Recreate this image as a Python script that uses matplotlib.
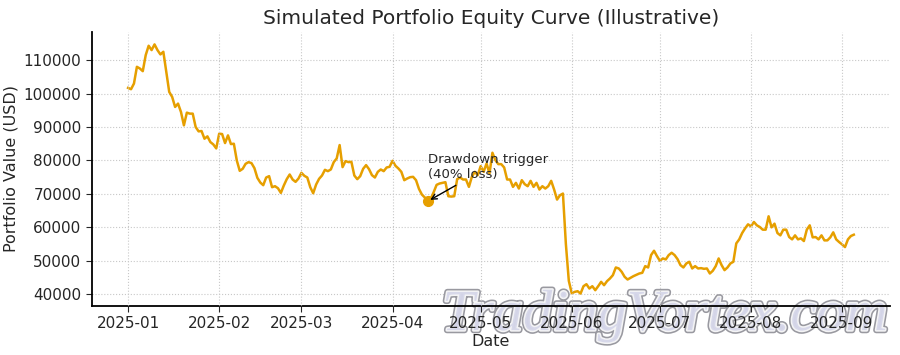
#!/usr/bin/env python3

import matplotlib
matplotlib.use('Agg')
import matplotlib.pyplot as plt
import matplotlib.dates as mdates
import matplotlib.patheffects as pe
from matplotlib.ticker import MultipleLocator
import pandas as pd


START_DATE = '2025-01-01'

# daily portfolio value, one list per month
jan_values = [101700, 101300, 103000, 108000, 107500, 106700, 111500, 114300, 113000, 114700,
              113000, 111700, 112500, 106500, 100500, 99000, 96000, 97000, 94500, 90500,
              94300, 94000, 94000, 90000, 88700, 88800, 86500, 87200, 85500, 84800,
              83600]
feb_values = [88000, 87900, 85200, 87500, 84900, 85000, 80000, 76900, 77500, 79000,
              79500, 79200, 77700, 74800, 73400, 72600, 74900, 75300, 72000, 72300,
              71700, 70300, 72500, 74400, 75800, 74300, 73600, 74600]
mar_values = [76300, 75400, 74900, 72000, 70200, 72800, 74500, 75500, 77200, 76800,
              77300, 79500, 80600, 84600, 78000, 79800, 79500, 79600, 75500, 74400,
              75300, 77500, 78600, 77400, 75600, 74900, 76600, 77300, 76800, 77900,
              78100]
apr_values = [79900, 78400, 77600, 76600, 74100, 74600, 75000, 75100, 74100, 71500,
              69800, 68900, 67800, 68500, 70500, 72700, 73100, 73300, 73500, 69300,
              69200, 69300, 74400, 74900, 74300, 74300, 72100, 75100, 76600, 75600]
may_values = [78300, 76600, 79100, 76100, 82300, 80100, 78900, 78900, 77900, 74300,
              74300, 72100, 73300, 71600, 74100, 72900, 72300, 73900, 72100, 73300,
              71300, 72300, 71600, 72300, 73900, 71300, 68300, 69600, 70100, 55000,
              44000]
jun_values = [40300, 40700, 40900, 40200, 42400, 43000, 41700, 42400, 41200, 42400,
              43700, 42700, 43900, 44700, 45700, 48000, 47700, 46700, 45200, 44400,
              44900, 45400, 45800, 46200, 46400, 48400, 48000, 51700, 53000, 51400]
jul_values = [50000, 50700, 50400, 51700, 52400, 51700, 50500, 48700, 48000, 49200,
              49700, 47700, 48400, 47700, 47800, 47600, 47700, 46200, 47000, 48400,
              50700, 48700, 47200, 48000, 49200, 49700, 55200, 56400, 58300, 59700,
              60900]
aug_values = [60300, 61600, 60600, 60100, 59300, 59300, 63300, 60000, 61100, 58300,
              57600, 59300, 59300, 57100, 56400, 57600, 56400, 56700, 55900, 59300,
              60600, 57000, 57100, 56400, 57600, 56100, 56100, 57000, 58500, 56400,
              55600]
sep_values = [54900, 54100, 56400, 57400, 57800]

TRIGGER_DATE = '2025-04-13'
TRIGGER_LABEL = 'Drawdown trigger\n(40% loss)'

LINE_COLOR = '#E69F00'
TEXT_COLOR = '#262626'


def main():
    values = (jan_values + feb_values + mar_values + apr_values + may_values
              + jun_values + jul_values + aug_values + sep_values)
    equity = pd.Series(values,
                       index=pd.date_range(START_DATE, periods=len(values), freq='D'))

    plt.rcParams['font.family'] = ['DejaVu Sans']
    fig = plt.figure(figsize=(9, 3.55), dpi=100)
    ax = fig.add_axes([0.102, 0.138, 0.887, 0.772])

    ax.plot(equity.index, equity.values, color=LINE_COLOR, lw=1.8)

    trig_x = pd.Timestamp(TRIGGER_DATE)
    trig_y = equity[trig_x]
    ax.plot([trig_x], [trig_y], 'o', color=LINE_COLOR, ms=7)
    ax.annotate(TRIGGER_LABEL, xy=(trig_x, trig_y),
                xytext=(trig_x, trig_y + 6000),
                fontsize=9.5, color=TEXT_COLOR, va='bottom', ha='left',
                arrowprops=dict(arrowstyle='->', color='black', lw=1))

    ax.xaxis.set_major_locator(mdates.MonthLocator())
    ax.xaxis.set_major_formatter(mdates.DateFormatter('%Y-%m'))
    ax.yaxis.set_major_locator(MultipleLocator(10000))

    ax.grid(True, ls=':', lw=0.8, color='#c8c8c8')
    ax.set_axisbelow(True)
    # date labels sit on top of the watermark
    ax.xaxis.set_zorder(3)
    for side in ('top', 'right'):
        ax.spines[side].set_visible(False)
    for side in ('left', 'bottom'):
        ax.spines[side].set_linewidth(1.3)
    ax.tick_params(labelsize=11, colors=TEXT_COLOR, length=4)

    ax.set_title('Simulated Portfolio Equity Curve (Illustrative)',
                 fontsize=14.5, color=TEXT_COLOR, pad=6)
    ax.set_xlabel('Date', fontsize=11.5, color=TEXT_COLOR, labelpad=2)
    ax.set_ylabel('Portfolio Value (USD)', fontsize=11.5, color=TEXT_COLOR, labelpad=4)

    # watermark, above the curve but under the spine and tick labels
    ax.text(0.739, 0.07, 'TradingVortex.com', transform=fig.transFigure,
            fontsize=42, family='Liberation Serif', style='italic',
            color='#d4d5e8', ha='center', va='baseline', zorder=2.2,
            clip_on=False, alpha=0.9,
            path_effects=[pe.Stroke(linewidth=4.5, foreground='#8e8e96', alpha=0.9),
                          pe.Stroke(linewidth=2.2, foreground='white', alpha=0.9),
                          pe.Normal()])

    fig.savefig('out.png', dpi=100)


if __name__ == '__main__':
    main()
